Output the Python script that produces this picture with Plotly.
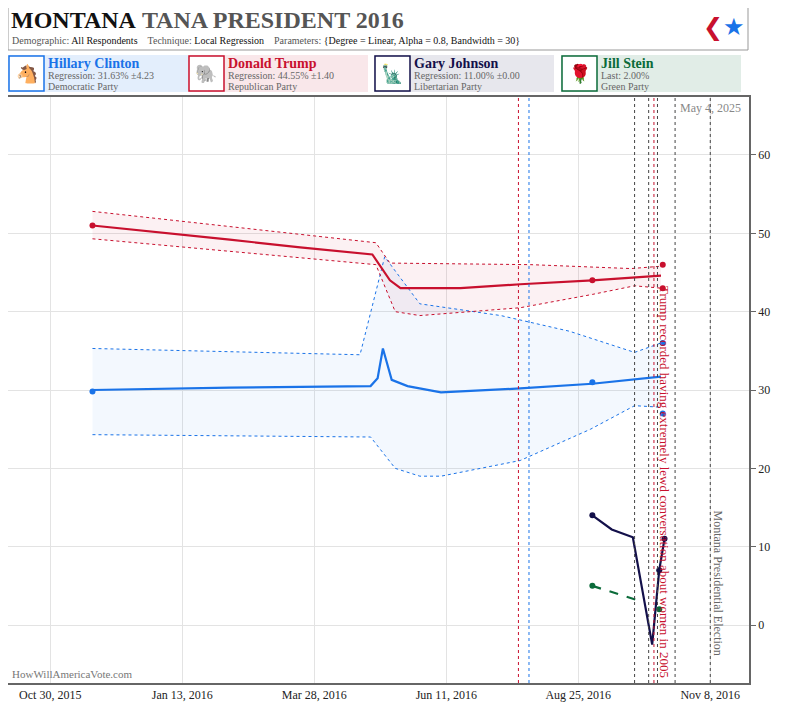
import plotly.graph_objects as go

# ---------------- data ----------------
clinton_poll_dates = ["2015-11-23", "2016-09-02", "2016-10-12", "2016-10-12"]
clinton_poll_vals = [29.8, 31.0, 36.0, 27.0]
trump_poll_dates = ["2015-11-23", "2016-09-02", "2016-10-12", "2016-10-12"]
trump_poll_vals = [51.0, 44.0, 46.0, 43.0]
johnson_poll_dates = ["2016-09-02", "2016-10-10", "2016-10-13"]
johnson_poll_vals = [14.0, 7.0, 11.0]
stein_poll_dates = ["2016-09-02", "2016-10-10"]
stein_poll_vals = [5.0, 2.0]

clinton_reg_dates = ["2015-11-23", "2016-02-09", "2016-04-29", "2016-05-03", "2016-05-06", "2016-05-11",
                     "2016-05-20", "2016-06-08", "2016-07-23", "2016-09-02", "2016-10-11"]
clinton_reg_vals = [30.0, 30.3, 30.5, 31.5, 35.3, 31.3, 30.5, 29.7, 30.2, 30.8, 31.7]
clinton_up_dates = ["2015-11-23", "2016-04-23", "2016-05-07", "2016-05-27", "2016-07-12",
                    "2016-08-20", "2016-09-26", "2016-10-11"]
clinton_up_vals = [35.3, 34.5, 47.0, 41.0, 39.5, 37.5, 34.8, 36.0]
clinton_lo_dates = ["2015-11-23", "2016-04-29", "2016-05-13", "2016-05-27", "2016-06-08",
                    "2016-07-23", "2016-09-01", "2016-09-26", "2016-10-11"]
clinton_lo_vals = [24.3, 24.0, 20.0, 19.0, 19.0, 21.0, 25.0, 28.0, 27.8]

trump_reg_dates = ["2015-11-23", "2016-01-06", "2016-02-09", "2016-03-20", "2016-04-30",
                   "2016-05-10", "2016-05-16", "2016-06-19", "2016-07-23", "2016-09-02", "2016-10-11"]
trump_reg_vals = [51.0, 50.0, 49.2, 48.2, 47.3, 44.0, 43.0, 43.0, 43.5, 44.0, 44.6]
trump_up_dates = ["2015-11-23", "2016-05-02", "2016-05-10", "2016-07-29", "2016-09-24", "2016-10-11"]
trump_up_vals = [52.8, 48.8, 46.2, 46.0, 45.5, 45.8]
trump_lo_dates = ["2015-11-23", "2016-05-02", "2016-05-13", "2016-05-27", "2016-07-23",
                  "2016-09-02", "2016-09-26", "2016-10-11"]
trump_lo_vals = [49.3, 46.0, 40.0, 39.5, 40.5, 42.2, 43.3, 43.0]

johnson_reg_dates = ["2016-09-02", "2016-09-13", "2016-09-25", "2016-10-06", "2016-10-10", "2016-10-13"]
johnson_reg_vals = [14.0, 12.2, 11.2, -2.5, 7.0, 11.0]
stein_reg_dates = ["2016-09-02", "2016-09-30"]
stein_reg_vals = [5.0, 3.0]

event_dates = ["2016-07-22", "2016-07-28", "2016-09-26", "2016-10-04", "2016-10-07",
               "2016-10-09", "2016-10-19", "2016-11-08"]
event_colors = ["#c8102e", "#1a73e8", "#444", "#444", "#c8102e", "#444", "#444", "#444"]

tick_dates = ["2015-10-30", "2016-01-13", "2016-03-28", "2016-06-11", "2016-08-25", "2016-11-08"]
tick_labels = ["Oct 30, 2015", "Jan 13, 2016", "Mar 28, 2016", "Jun 11, 2016", "Aug 25, 2016", "Nov 8, 2016"]

BLUE = "#1a73e8"
RED = "#c8102e"
NAVY = "#13104a"
GREEN = "#0b6b3a"
SERIF = "Liberation Serif"

fig = go.Figure()

fig.add_trace(go.Scatter(x=clinton_up_dates + clinton_lo_dates[::-1], y=clinton_up_vals + clinton_lo_vals[::-1],
                         fill="toself", fillcolor="rgba(26,115,232,0.05)", line=dict(width=0),
                         mode="lines", showlegend=False, hoverinfo="skip"))
fig.add_trace(go.Scatter(x=trump_up_dates + trump_lo_dates[::-1], y=trump_up_vals + trump_lo_vals[::-1],
                         fill="toself", fillcolor="rgba(200,16,46,0.06)", line=dict(width=0),
                         mode="lines", showlegend=False, hoverinfo="skip"))
for d, v, c in [(clinton_up_dates, clinton_up_vals, BLUE), (clinton_lo_dates, clinton_lo_vals, BLUE),
                (trump_up_dates, trump_up_vals, RED), (trump_lo_dates, trump_lo_vals, RED)]:
    fig.add_trace(go.Scatter(x=d, y=v, mode="lines", line=dict(color=c, width=1, dash="dot"),
                             hoverinfo="skip", showlegend=False))

fig.add_trace(go.Scatter(x=clinton_reg_dates, y=clinton_reg_vals, mode="lines", line=dict(color=BLUE, width=2.2), showlegend=False))
fig.add_trace(go.Scatter(x=trump_reg_dates, y=trump_reg_vals, mode="lines", line=dict(color=RED, width=2.2), showlegend=False))
fig.add_trace(go.Scatter(x=johnson_reg_dates, y=johnson_reg_vals, mode="lines", line=dict(color=NAVY, width=2.2), showlegend=False))
fig.add_trace(go.Scatter(x=stein_reg_dates, y=stein_reg_vals, mode="lines", line=dict(color=GREEN, width=2.2, dash="dash"), showlegend=False))

for d, v, c in [(clinton_poll_dates, clinton_poll_vals, BLUE), (trump_poll_dates, trump_poll_vals, RED),
                (johnson_poll_dates, johnson_poll_vals, NAVY), (stein_poll_dates, stein_poll_vals, GREEN)]:
    fig.add_trace(go.Scatter(x=d, y=v, mode="markers", marker=dict(color=c, size=6), showlegend=False))

for d, c in zip(event_dates, event_colors):
    fig.add_shape(type="line", x0=d, x1=d, y0=0, y1=1, xref="x", yref="paper",
                  line=dict(color=c, width=1, dash="dot"))

fig.add_annotation(x="2016-10-12", y=43.5, xref="x", yref="y", xanchor="left", yanchor="top", textangle=90,
                   text="Trump recorded having extremely lewd conversation about women in 2005",
                   showarrow=False, font=dict(family=SERIF, size=13, color=RED), xshift=-8)
fig.add_annotation(x="2016-11-08", y=14.9, xref="x", yref="y", xanchor="left", yanchor="top", textangle=90,
                   text="Montana Presidential Election", showarrow=False,
                   font=dict(family=SERIF, size=12, color="#666"), xshift=-1)
fig.add_annotation(x=1, y=1, xref="paper", yref="paper", xanchor="right", yanchor="top",
                   text="May 4, 2025", showarrow=False, font=dict(family=SERIF, size=12, color="#888"), xshift=-6, yshift=-2)
fig.add_annotation(x=0, y=0, xref="paper", yref="paper", xanchor="left", yanchor="bottom",
                   text="HowWillAmericaVote.com", showarrow=False, font=dict(family=SERIF, size=11, color="#777"), xshift=2, yshift=1)

# ---------- header (page pixel coords -> paper) ----------
PH = 586.0
PW = 741.0
def py(p):
    return (683 - p) / PH
def px(p):
    return (p - 8) / PW

fig.add_shape(type="rect", xref="paper", yref="paper", x0=px(8), x1=px(748), y0=py(50), y1=py(5),
              line=dict(color="#999", width=1), fillcolor="white", layer="below")
fig.add_annotation(x=px(9), y=py(20), xref="paper", yref="paper", xanchor="left", yanchor="middle", showarrow=False,
                   text="<b>MONTANA</b> <span style='color:#555'><b>TANA PRESIDENT 2016</b></span>",
                   font=dict(family=SERIF, size=24, color="#111"))
fig.add_annotation(x=px(10), y=py(40), xref="paper", yref="paper", xanchor="left", yanchor="middle", showarrow=False,
                   text="<span style='color:#555'>Demographic:</span> All Respondents&nbsp;&nbsp;&nbsp;&nbsp;"
                        "<span style='color:#555'>Technique:</span> Local Regression&nbsp;&nbsp;&nbsp;&nbsp;"
                        "<span style='color:#555'>Parameters:</span> {Degree = Linear, Alpha = 0.8, Bandwidth = 30}",
                   font=dict(family=SERIF, size=10, color="#111"))
fig.add_annotation(x=px(747), y=py(27), xref="paper", yref="paper", xanchor="right", yanchor="middle", showarrow=False,
                   text="<span style='color:#c8102e'>❮</span><span style='color:#1a73e8'>★</span>",
                   font=dict(family="DejaVu Sans", size=24))

panels = [
    ("Hillary Clinton", "Regression: 31.63% ±4.23", "Democratic Party", BLUE, "rgba(26,115,232,0.12)", 8),
    ("Donald Trump", "Regression: 44.55% ±1.40", "Republican Party", RED, "rgba(200,16,46,0.10)", 188),
    ("Gary Johnson", "Regression: 11.00% ±0.00", "Libertarian Party", NAVY, "rgba(19,16,74,0.10)", 374),
    ("Jill Stein", "Last: 2.00%", "Green Party", GREEN, "rgba(11,107,58,0.12)", 561),
]
icons = ["🐴", "🐘", "🗽", "🌹"]
for (name, reg, party, col, fill, x0), ic in zip(panels, icons):
    fig.add_shape(type="rect", xref="paper", yref="paper", x0=px(x0), x1=px(x0 + 180), y0=py(92), y1=py(55),
                  line=dict(width=0), fillcolor=fill, layer="below")
    fig.add_shape(type="rect", xref="paper", yref="paper", x0=px(x0 + 1), x1=px(x0 + 36), y0=py(91), y1=py(56),
                  line=dict(color=col, width=1.5), fillcolor="white", layer="below")
    fig.add_annotation(x=px(x0 + 18.5), y=py(73.5), xref="paper", yref="paper", xanchor="center", yanchor="middle",
                       showarrow=False, text=ic, font=dict(size=18, color=col))
    fig.add_annotation(x=px(x0 + 38), y=py(63), xref="paper", yref="paper", xanchor="left", yanchor="middle",
                       showarrow=False, text="<b>%s</b>" % name, font=dict(family=SERIF, size=14, color=col))
    fig.add_annotation(x=px(x0 + 38), y=py(75), xref="paper", yref="paper", xanchor="left", yanchor="middle",
                       showarrow=False, text=reg, font=dict(family=SERIF, size=10, color="#666"))
    fig.add_annotation(x=px(x0 + 38), y=py(86), xref="paper", yref="paper", xanchor="left", yanchor="middle",
                       showarrow=False, text=party, font=dict(family=SERIF, size=10, color="#666"))

fig.update_layout(
    width=781, height=696, margin=dict(l=0, r=40, t=89, b=21, autoexpand=False),
    paper_bgcolor="white", plot_bgcolor="white", showlegend=False,
    xaxis=dict(type="date", range=["2015-10-06", "2016-11-30"], tickvals=tick_dates, ticktext=tick_labels,
               showgrid=True, gridcolor="#e3e3e3", showline=True, linecolor="#666", linewidth=1.5, mirror=True,
               tickfont=dict(family=SERIF, size=12, color="#222"), ticks="", zeroline=False),
    yaxis=dict(side="right", range=[-7.4, 67.4], tickvals=[0, 10, 20, 30, 40, 50, 60],
               showgrid=True, gridcolor="#e3e3e3", showline=True, linecolor="#666", linewidth=1.5, mirror=True,
               ticks="outside", ticklen=5, tickcolor="#666",
               tickfont=dict(family=SERIF, size=12, color="#222"), zeroline=False),
)

fig.write_html("out.html")
